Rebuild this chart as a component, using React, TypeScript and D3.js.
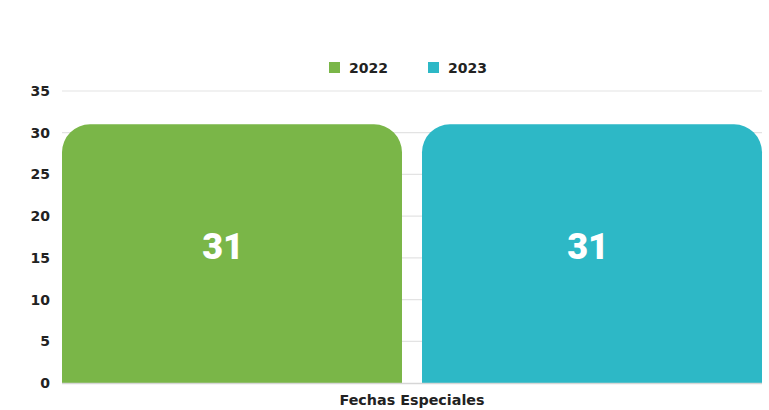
import React from "react";
import * as d3 from "d3";

const categories = ["Fechas Especiales"];
const seriesNames = ["2022", "2023"];
const values2022 = [31];
const values2023 = [31];
const seriesColors = ["#7ab648", "#2db8c6"];
const yTicks = [0, 5, 10, 15, 20, 25, 30, 35];

const W = 769;
const H = 410;
const M = { left: 62, right: 7, top: 91, bottom: 27 };
const LABEL_DX = [-9, -4];

function topRounded(x: number, y: number, w: number, h: number, r: number) {
  const rr = Math.min(r, w / 2, h);
  return `M${x},${y + h}L${x},${y + rr}A${rr},${rr} 0 0 1 ${x + rr},${y}L${x + w - rr},${y}A${rr},${rr} 0 0 1 ${x + w},${y + rr}L${x + w},${y + h}Z`;
}

export default function App() {
  const smallFont = "'DejaVu Sans', sans-serif";
  const bigFont = "Roboto, 'Liberation Sans', sans-serif";
  const y = d3.scaleLinear().domain([0, 35]).range([H - M.bottom, M.top]);
  const x0 = d3.scaleBand().domain(categories).range([M.left, W - M.right]).padding(0);
  const x1 = d3
    .scaleBand()
    .domain(seriesNames)
    .range([0, x0.bandwidth()])
    .paddingInner(0.0556)
    .paddingOuter(0);
  const seriesValues = [values2022, values2023];

  const legendX = [329, 428];

  return (
    <svg width={W} height={H} style={{ position: "absolute", left: 0, top: 0, background: "#fff" }}>
      <rect width={W} height={H} fill="#fff" />
      {yTicks.map((t) => (
        <g key={t}>
          {t !== 0 && (
            <line x1={M.left} x2={W - M.right} y1={y(t)} y2={y(t)} stroke="#e3e3e3" strokeWidth={1.2} />
          )}
          <text
            x={50}
            y={y(t)}
            dy="0.36em"
            textAnchor="end"
            fontFamily={smallFont}
            fontWeight={700}
            fontSize={14}
            fill="#222"
          >
            {t}
          </text>
        </g>
      ))}
      {categories.map((c, ci) =>
        seriesNames.map((s, si) => {
          const v = seriesValues[si][ci];
          const bx = (x0(c) as number) + (x1(s) as number);
          const bw = x1.bandwidth();
          const by = y(v);
          const bh = y(0) - by;
          return (
            <g key={c + s}>
              <path d={topRounded(bx, by, bw, bh, 28)} fill={seriesColors[si]} />
              <text
                x={bx + bw / 2 + LABEL_DX[si]}
                y={246}
                dy="0.355em"
                textAnchor="middle"
                fontFamily={bigFont}
                fontWeight={900}
                fontSize={36}
                fill="#fff"
              >
                {v}
              </text>
            </g>
          );
        })
      )}
      <line x1={M.left} x2={W - M.right} y1={y(0) + 0.5} y2={y(0) + 0.5} stroke="#d6d6d6" strokeWidth={1.5} />
      {categories.map((c) => (
        <text
          key={c}
          x={(x0(c) as number) + x0.bandwidth() / 2}
          y={399.5}
          dy="0.36em"
          textAnchor="middle"
          fontFamily={smallFont}
          fontWeight={700}
          fontSize={14.3}
          fill="#222"
        >
          {c}
        </text>
      ))}
      {seriesNames.map((s, i) => (
        <g key={s}>
          <rect x={legendX[i]} y={62} width={11} height={11} fill={seriesColors[i]} />
          <text
            x={legendX[i] + 20}
            y={67.5}
            dy="0.36em"
            fontFamily={smallFont}
            fontWeight={700}
            fontSize={14}
            fill="#222"
          >
            {s}
          </text>
        </g>
      ))}
    </svg>
  );
}
